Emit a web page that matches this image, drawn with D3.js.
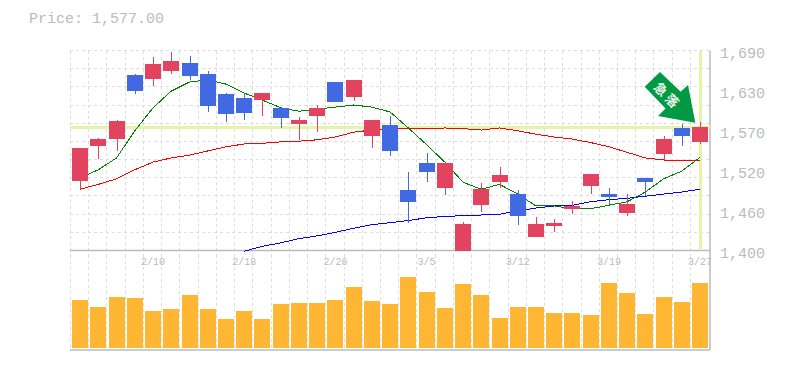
<!DOCTYPE html>
<html lang="ja">

<head>
    <meta charset="utf-8">
    <title>Price chart</title>
    <script src="https://d3js.org/d3.v7.min.js"></script>
    <style>
        body { margin: 0; background: #fff; }
        text { font-family: "Liberation Mono", monospace; fill: #bbb; }
    </style>
</head>

<body>
    <div id="chart"></div>
    <script>
        // Trading days, one per candle.
        const dates = ["2/4", "2/5", "2/6", "2/7", "2/10", "2/12", "2/13", "2/14", "2/17", "2/18",
            "2/19", "2/20", "2/21", "2/25", "2/26", "2/27", "2/28", "3/2", "3/4", "3/5",
            "3/6", "3/9", "3/10", "3/11", "3/12", "3/13", "3/16", "3/17", "3/18", "3/19",
            "3/23", "3/24", "3/25", "3/26", "3/27"];

        const opens = [1500, 1550, 1560, 1652, 1646, 1658, 1669, 1654, 1625, 1619,
            1616, 1605, 1582, 1593, 1642, 1620, 1564, 1580, 1487, 1526,
            1490, 1400, 1465, 1498, 1481, 1419, 1435, 1460, 1493, 1481,
            1454, 1504, 1539, 1576, 1556];
        const closes = [1547, 1560, 1586, 1629, 1668, 1672, 1651, 1608, 1596, 1598,
            1626, 1590, 1587, 1605, 1613, 1645, 1587, 1543, 1470, 1513,
            1526, 1438, 1488, 1508, 1450, 1438, 1440, 1464, 1510, 1477,
            1467, 1498, 1560, 1564, 1577];
        const highs = [1547, 1562, 1587, 1654, 1678, 1685, 1679, 1658, 1626, 1626,
            1626, 1605, 1592, 1609, 1642, 1645, 1587, 1593, 1513, 1540,
            1526, 1441, 1497, 1520, 1487, 1448, 1445, 1471, 1510, 1490,
            1481, 1504, 1564, 1582, 1585];
        const lows = [1488, 1531, 1543, 1625, 1636, 1654, 1645, 1599, 1585, 1587,
            1593, 1576, 1559, 1570, 1613, 1615, 1547, 1536, 1440, 1498,
            1480, 1400, 1455, 1490, 1437, 1419, 1427, 1452, 1481, 1465,
            1450, 1478, 1530, 1550, 1553];

        const volume = [48, 41, 51, 50, 37, 39, 53, 39, 29, 37,
            29, 44, 45, 45, 48, 61, 47, 44, 71, 56,
            40, 64, 53, 30, 41, 41, 35, 35, 33, 65,
            55, 34, 51, 46, 65];

        // Moving averages.
        const maShort = [1504, 1516, 1533, 1572, 1605, 1629, 1642, 1645, 1639, 1626,
            1616, 1605, 1600, 1603, 1606, 1609, 1606, 1599, 1576, 1552,
            1527, 1498, 1488, 1495, 1481, 1464, 1464, 1460, 1460, 1465,
            1470, 1484, 1503, 1514, 1534];
        const maMiddle = [1488, 1495, 1503, 1516, 1527, 1533, 1537, 1543, 1549, 1553,
            1554, 1556, 1557, 1559, 1563, 1570, 1573, 1575, 1575, 1575,
            1576, 1575, 1573, 1576, 1572, 1567, 1563, 1560, 1555, 1549,
            1541, 1533, 1530, 1529, 1529];
        // The long average only starts at 2/18.
        const maLong = [null, null, null, null, null, null, null, null, null,
            1399, 1406, 1411, 1417, 1421, 1426, 1432, 1437, 1440, 1443,
            1447, 1449, 1450, 1451, 1452, 1457, 1461, 1464, 1465, 1470,
            1473, 1475, 1478, 1481, 1484, 1488];

        const priceTicks = [1690, 1630, 1570, 1520, 1460, 1400];
        const arrowLabel = "急落";

        const totalWidth = 785,
            totalHeight = 370,
            plotLeft = 71,
            plotRight = 709.2,
            plotTop = 50.5,
            priceBottom = 250.5,
            plotBottom = 349.5;

        const colors = {
            up: "#e2445f",
            down: "#4169e1",
            volume: "#ffb733",
            grid: "#ddd",
            border: "#bbb",
            marker: "#e4f5a8",
            arrow: "#009944"
        };

        let svg = d3.select("#chart")
            .append("svg")
            .attr("width", totalWidth)
            .attr("height", totalHeight)
            .style("display", "block");

        let x = d3.scaleBand().domain(dates).range([plotLeft, plotRight]).paddingInner(0.12).paddingOuter(0.06);
        let center = (i) => plotLeft + x.step() * i + x.step() / 2;
        let y = d3.scaleLinear().domain([1400, 1690]).range([priceBottom, 48.6]);
        let yVolume = d3.scaleLinear().domain([0, 100]).range([348, 248]);
        // The labels sit evenly spaced, a little below the grid they belong to.
        let yLabels = d3.scalePoint().domain(priceTicks).range([53, 253]);
        let yGrid = d3.scaleLinear().domain([0, 11]).range([plotTop, priceBottom]);

        // Dashed grid, vertical lines run through both panels.
        let grid = svg.append("g")
            .attr("stroke", colors.grid)
            .attr("stroke-dasharray", "3,3")
            .attr("shape-rendering", "crispEdges");
        grid.selectAll(".v")
            .data(d3.range(dates.length))
            .enter().append("line")
            .attr("x1", (i) => plotLeft + x.step() * i - 0.5)
            .attr("x2", (i) => plotLeft + x.step() * i - 0.5)
            .attr("y1", plotTop)
            .attr("y2", plotBottom);
        grid.selectAll(".h")
            .data(d3.range(11))
            .enter().append("line")
            .attr("x1", plotLeft - 1)
            .attr("x2", 710)
            .attr("y1", (d) => yGrid(d))
            .attr("y2", (d) => yGrid(d));

        // Volume bars.
        svg.append("g")
            .selectAll("rect")
            .data(volume)
            .enter().append("rect")
            .attr("x", (d, i) => Math.round(center(i) - 8))
            .attr("width", 16)
            .attr("y", (d) => yVolume(d))
            .attr("height", (d) => yVolume(0) - yVolume(d))
            .attr("fill", colors.volume);

        // Panel borders.
        let border = svg.append("g").attr("stroke", colors.border).attr("stroke-width", 1.5);
        border.append("line").attr("x1", plotLeft - 1).attr("x2", 710).attr("y1", priceBottom).attr("y2", priceBottom);
        border.append("line").attr("x1", plotLeft - 1).attr("x2", 710).attr("y1", plotBottom + 0.5).attr("y2", plotBottom + 0.5);
        border.append("line").attr("x1", 710).attr("x2", 710).attr("y1", plotTop).attr("y2", plotBottom + 0.5);

        // Crosshair on the last price.
        let lastIndex = dates.length - 1;
        let marker = svg.append("g").attr("stroke", colors.marker).attr("stroke-width", 3)
            .attr("shape-rendering", "crispEdges");
        marker.append("line").attr("x1", plotLeft - 1).attr("x2", 710)
            .attr("y1", y(closes[lastIndex])).attr("y2", y(closes[lastIndex]));
        marker.append("line").attr("x1", center(lastIndex) + 0.5).attr("x2", center(lastIndex) + 0.5)
            .attr("y1", plotTop).attr("y2", priceBottom - 1.5);

        // Moving averages, drawn under the candles.
        let maLine = d3.line()
            .defined((d) => d !== null)
            .x((d, i) => center(i))
            .y((d) => y(d));
        [[maLong, "#0000ff"], [maMiddle, "#ff0000"], [maShort, "#008000"]].forEach(function (s) {
            svg.append("path")
                .attr("d", maLine(s[0]))
                .attr("fill", "none")
                .attr("stroke", s[1])
                .attr("stroke-width", 1)
                .attr("shape-rendering", "crispEdges");
        });

        // Candles.
        let candles = svg.append("g").attr("shape-rendering", "crispEdges");
        let candleColor = (i) => closes[i] >= opens[i] ? colors.up : colors.down;
        candles.selectAll("line")
            .data(d3.range(dates.length))
            .enter().append("line")
            .attr("x1", (i) => Math.round(center(i)) + 0.5)
            .attr("x2", (i) => Math.round(center(i)) + 0.5)
            .attr("y1", (i) => y(highs[i]))
            .attr("y2", (i) => y(lows[i]))
            .attr("stroke", candleColor);
        candles.selectAll("rect")
            .data(d3.range(dates.length))
            .enter().append("rect")
            .attr("x", (i) => Math.round(center(i) - 8))
            .attr("width", 16)
            .attr("y", (i) => Math.round(y(Math.max(opens[i], closes[i]))))
            .attr("height", (i) => Math.round(y(Math.min(opens[i], closes[i]))) - Math.round(y(Math.max(opens[i], closes[i]))))
            .attr("fill", candleColor);

        // Axes, text only.
        let xAxis = d3.axisBottom(x)
            .tickValues(dates.filter((d, i) => i % 5 === 4))
            .tickSize(0)
            .tickPadding(0);
        let xGroup = svg.append("g")
            .attr("transform", "translate(0,258)")
            .call(xAxis);
        xGroup.select(".domain").remove();
        xGroup.selectAll("text").attr("font-size", 10).style("fill", "#bbb");
        xGroup.attr("font-family", null);

        let yAxis = d3.axisRight(yLabels)
            .tickFormat(d3.format(","))
            .tickSize(0)
            .tickPadding(9);
        let yGroup = svg.append("g")
            .attr("transform", "translate(711,0)")
            .call(yAxis);
        yGroup.select(".domain").remove();
        yGroup.selectAll("text").attr("font-size", 15).style("fill", "#bbb");
        yGroup.attr("font-family", null);

        svg.append("text")
            .attr("x", 29)
            .attr("y", 22.5)
            .attr("font-size", 15)
            .text("Price: " + d3.format(",.2f")(closes[lastIndex]));

        // Arrow pointing at the last candle.
        svg.append("path")
            .attr("d", d3.line()([[660, 72], [680.7, 91.7], [688, 85], [695.3, 122.7], [658, 116], [665.5, 108.5], [644.7, 86.7]]) + "Z")
            .attr("fill", colors.arrow);
        svg.append("text")
            .attr("transform", "translate(668,95.5) rotate(45)")
            .attr("text-anchor", "middle")
            .attr("dominant-baseline", "central")
            .attr("font-size", 13)
            .attr("letter-spacing", 3)
            .style("font-family", "'Noto Sans CJK JP'")
            .style("font-weight", "bold")
            .style("fill", "#eef5ea")
            .text(arrowLabel);
    </script>
</body>

</html>
